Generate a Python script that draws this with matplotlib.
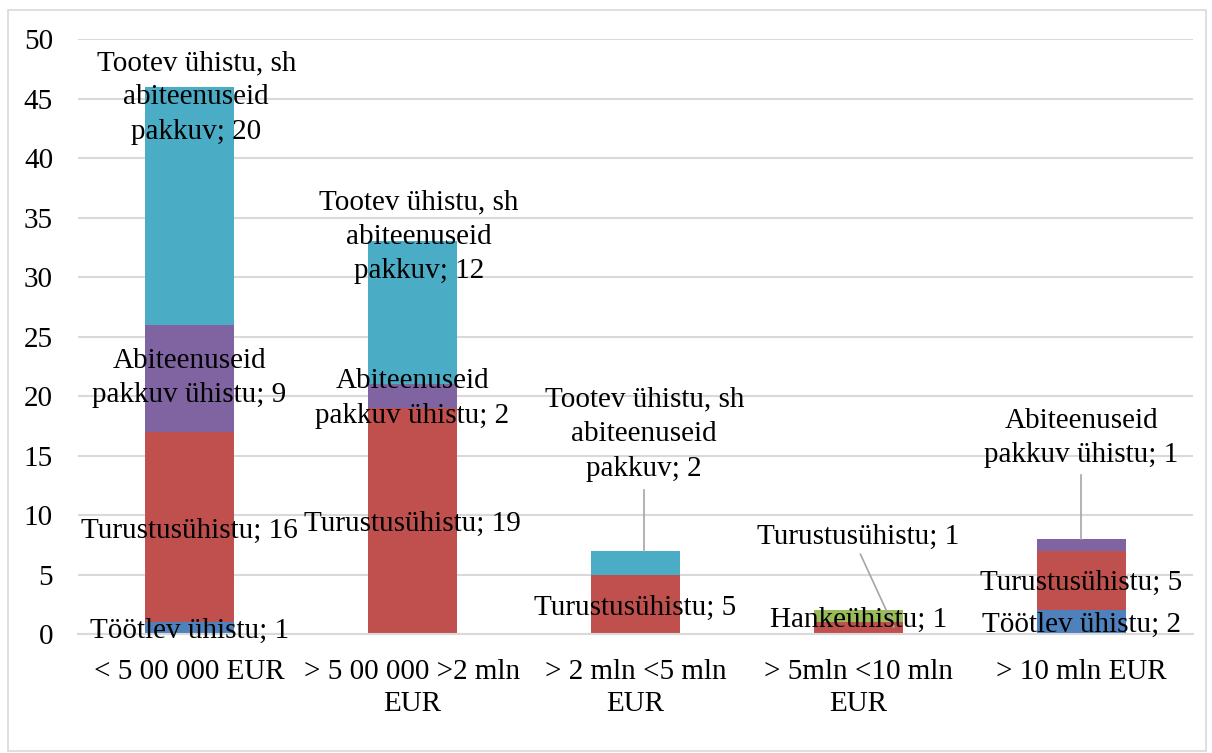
import matplotlib.pyplot as plt
from matplotlib.patches import Rectangle
import numpy as np

plt.rcParams["font.family"] = ["Liberation Serif", "DejaVu Serif"]

categories = ["< 5 00 000 EUR", "> 5 00 000 >2 mln\nEUR", "> 2 mln <5 mln\nEUR",
              "> 5mln <10 mln\nEUR", "> 10 mln EUR"]
series = ["Töötlev ühistu", "Turustusühistu", "Hankeühistu",
          "Abiteenuseid pakkuv ühistu", "Tootev ühistu, sh abiteenuseid pakkuv"]
tootlev = [1, 0, 0, 0, 2]
turustus = [16, 19, 5, 1, 5]
hanke = [0, 0, 0, 1, 0]
abiteenus = [9, 2, 0, 0, 1]
tootev = [20, 12, 2, 0, 0]

colors = ["#4F81BD", "#C0504D", "#9BBB59", "#8064A2", "#4BACC6"]
label_txt = ["Töötlev ühistu", "Turustusühistu", "Hankeühistu",
             "Abiteenuseid\npakkuv ühistu", "Tootev ühistu, sh\nabiteenuseid\npakkuv"]

# label placement: (series, category) -> (dx, dy from segment centre, leader length or 0)
label_pos = {
    (0, 0): (0.0, -0.2, 0), (1, 0): (0.0, -0.3, 0),
    (3, 0): (0.0, 0.0, 0), (4, 0): (0.03, 9.1, 0),
    (1, 1): (0.0, -0.2, 0), (3, 1): (0.0, -0.2, 0),
    (4, 1): (0.03, 6.4, 0),
    (1, 2): (0.0, -0.3, 0), (4, 2): (0.04, 10.8, 4.7),
    (1, 3): (0.0, 7.7, 1.5), (2, 3): (0.0, -0.3, 0),
    (0, 4): (0.0, -0.2, 0), (1, 4): (0.0, -0.2, 0),
    (3, 4): (0.0, 9.0, 3.1),
}

data = [tootlev, turustus, hanke, abiteenus, tootev]
x = np.arange(len(categories))
FS = 21

fig = plt.figure(figsize=(12.12, 7.53), dpi=100)
ax = fig.add_axes([0.0644, 0.158, 0.9196, 0.79])
fig.patches.append(Rectangle((0.007, 0.002), 0.988, 0.985, transform=fig.transFigure,
                             fill=False, edgecolor="#D9D9D9", linewidth=1.2))

bottom = np.zeros(len(categories))
for i, vals in enumerate(data):
    vals = np.array(vals, dtype=float)
    ax.bar(x, vals, 0.4, bottom=bottom, color=colors[i], zorder=2)
    for j, v in enumerate(vals):
        if v == 0:
            continue
        cy = bottom[j] + v / 2
        dx, dy, lead = label_pos[(i, j)]
        tx, ty = x[j] + dx, cy + dy
        ax.text(tx, ty, f"{label_txt[i]}; {int(v)}", ha="center", va="center",
                fontsize=FS, zorder=4, linespacing=1.42)
        if lead:
            top = bottom[j] + v
            if (i, j) == (1, 3):
                ax.plot([x[j] + 0.01, x[j] + 0.16], [ty - lead, top - 0.4],
                        color="#A6A6A6", lw=1.2, zorder=3)
            else:
                ax.plot([tx, tx], [ty - lead, top], color="#A6A6A6", lw=1.2, zorder=3)
    bottom += vals

ax.set_xlim(-0.5, len(categories) - 0.5)
ax.set_ylim(0, 50)
ax.set_yticks(range(0, 51, 5))
ax.set_xticks(x)
ax.set_xticklabels(categories, fontsize=FS, linespacing=1.3)
ax.tick_params(axis="y", labelsize=FS, length=0, pad=18)
ax.tick_params(axis="x", length=0, pad=18)
ax.grid(axis="y", color="#D9D9D9", linewidth=1.5, zorder=0)
ax.set_axisbelow(True)
for s in ["top", "right", "left"]:
    ax.spines[s].set_visible(False)
ax.spines["bottom"].set_color("#D9D9D9")
ax.spines["bottom"].set_linewidth(1.5)

fig.savefig("out.png", dpi=100)
